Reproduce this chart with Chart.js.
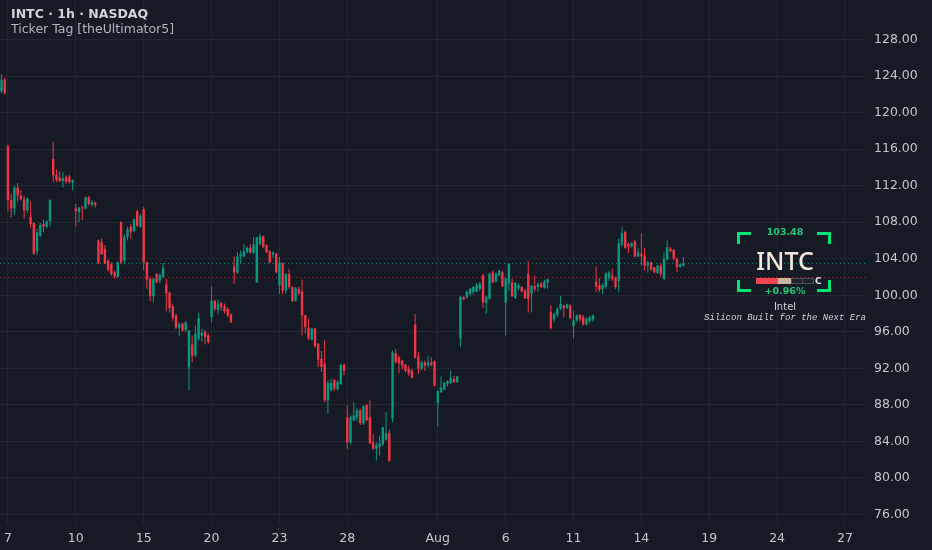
<!DOCTYPE html>
<html>
<head>
<meta charset="utf-8">
<script src="https://cdn.jsdelivr.net/npm/chart.js@4.4.1/dist/chart.umd.min.js"></script>
<style>
  html, body { margin: 0; padding: 0; background: #161a25; }
  #wrap { position: relative; width: 932px; height: 550px; overflow: hidden; font-family: "DejaVu Sans", sans-serif; }
  #chart { position: absolute; left: 0; top: 0; }
  .txt { position: absolute; white-space: nowrap; }
  .title { left: 11px; font-size: 12.5px; line-height: 16px; }
  .corner { position: absolute; width: 11px; height: 9px; border: 0 solid #00e676; }
  .tag { left: 735px; width: 100px; text-align: center; }
  .seg { position: absolute; top: 278px; height: 4px; border: 1px solid #4a4e58; }
</style>
</head>
<body>
<div id="wrap">
  <canvas id="chart" width="932" height="550"></canvas>

  <div class="txt title" style="top:6px; color:#d1d4dc; font-weight:600;">INTC · 1h · NASDAQ</div>
  <div class="txt title" style="top:21px; color:#b2b5be;">Ticker Tag [theUltimator5]</div>

  <div class="corner" style="left:737px; top:232px; border-top-width:3px; border-left-width:3px;"></div>
  <div class="corner" style="left:817px; top:232px; border-top-width:3px; border-right-width:3px;"></div>
  <div class="corner" style="left:737px; top:280px; border-bottom-width:3px; border-left-width:3px;"></div>
  <div class="corner" style="left:817px; top:280px; border-bottom-width:3px; border-right-width:3px;"></div>

  <div class="txt tag" id="tag-price" style="top:226px; font-size:9.5px; line-height:12px; color:#22c77a; font-weight:bold;"></div>
  <div class="txt tag" id="tag-symbol" style="top:245px; font-size:25px; line-height:30px; color:#f2e9de; font-family:'Noto Sans', sans-serif; font-weight:500;"></div>
  <div class="seg" style="left:756px; width:21px; background:#f04552; border-color:#f04552;"></div>
  <div class="seg" style="left:778px; width:12px; background:#c9b6a0; border-color:#c9b6a0;"></div>
  <div class="seg" style="left:791px; width:10px; background:#1e222d;"></div>
  <div class="seg" style="left:802px; width:10px; background:#1e222d;"></div>
  <div class="txt" style="left:815px; top:275px; font-size:9px; line-height:12px; color:#e0e3eb; font-weight:bold;">C</div>
  <div class="txt tag" id="tag-change" style="top:285px; font-size:9.5px; line-height:12px; color:#22c77a; font-weight:bold;"></div>
  <div class="txt tag" id="tag-name" style="top:301px; font-size:10px; line-height:12px; color:#d1d4dc;"></div>
  <div class="txt" id="tag-slogan" style="left:685px; width:200px; text-align:center; top:312px; font-size:9px; line-height:12px; color:#d1d4dc; font-family:'Liberation Mono', monospace; font-style:italic;"></div>
</div>

<script>
// INTC 1h candles (bar index 0 = leftmost bar)
const opens = [
  122.3, 123.6, 116.3, 110.4, 109.5, 111.8, 110.9, 110.5, 109.3, 108.6,
  107.9, 104.8, 106.5, 107.8, 107.5, 108.1, 114.9, 113.2, 112.9, 112.5,
  112.9, 113.0, 112.3, 109.5, 109.1, 109.6, 109.5, 110.7, 109.9, 110.1,
  106.0, 105.8, 105.1, 103.8, 103.4, 102.5, 102.0,
  108.0, 103.8, 106.4, 107.5, 107.0, 109.2, 107.5, 109.4, 103.6, 101.8,
  99.9, 102.35, 101.6, 102.05, 101.2, 100.3, 98.8, 97.8, 96.45, 96.9,
  96.2, 92.1, 94.6, 93.4, 95.2, 95.6, 96.0, 95.6, 97.6, 99.4,
  98.4, 99.1, 98.8, 98.5, 97.9,
  103.15, 102.5, 104.25, 104.25, 104.7, 105.2, 104.6, 101.4, 105.6, 106.45,
  105.45, 104.8, 104.45, 104.55, 101.1, 103.5, 100.5, 102.3, 100.9, 99.4,
  100.7, 100.45, 97.8, 96.45, 95.15, 96.35, 94.7, 93.05, 92.5, 88.5,
  89.6, 90.7, 89.75, 90.3, 92.4,
  86.65, 83.9, 86.3, 86.65, 87.4, 86.0, 87.95, 86.65, 83.9, 83.2,
  83.4, 83.7, 84.2, 84.9, 86.5, 93.65, 93.2, 92.85, 92.4, 91.95,
  91.75, 96.8, 93.3, 91.95, 92.65, 92.3, 92.65, 92.8, 88.2, 89.4,
  89.65, 90.3, 90.4, 90.85, 90.5,
  95.25, 99.8, 99.8, 100.15, 100.35, 100.4, 100.7, 102.15, 99.2, 99.6,
  102.5, 101.5, 102.15, 102.5, 99.2, 101.25, 101.4, 99.7, 100.75, 100.9,
  100.5, 102.35, 100.15, 101.0, 100.9, 101.25, 100.8, 101.4, 98.2, 97.35,
  97.85, 98.5, 98.85, 98.6, 98.9, 96.6, 97.25, 97.85, 97.6, 96.8,
  97.15, 97.35,
  101.45, 101.1, 100.7, 100.9, 101.9, 102.15, 101.9, 101.55, 105.55, 106.9,
  105.6, 105.35, 105.9, 104.25, 104.55, 104.35, 103.25, 103.6, 103.05, 102.45,
  103.25, 101.8, 103.9, 105.1, 104.95, 104.0, 103.1, 103.25
];
const highs = [
  124.2, 123.8, 116.5, 111.1, 112.0, 112.3, 111.5, 110.9, 110.7, 110.3,
  108.0, 107.3, 107.9, 108.3, 108.2, 110.5, 116.8, 113.8, 113.6, 113.5,
  113.1, 113.2, 112.7, 110.0, 109.7, 109.8, 110.8, 110.9, 110.4, 110.3,
  106.1, 106.2, 105.5, 103.9, 103.6, 102.7, 103.7,
  108.1, 106.7, 107.5, 107.8, 108.4, 109.4, 108.9, 109.65, 103.7, 102.05,
  101.9, 102.4, 102.4, 103.5, 101.8, 100.45, 99.1, 98.0, 97.05, 97.0,
  97.2, 96.2, 95.6, 96.7, 98.05, 96.3, 96.2, 95.8, 100.96, 99.5,
  99.5, 99.3, 99.1, 98.7, 98.0,
  104.25, 104.7, 104.9, 105.6, 105.35, 105.6, 106.35, 106.4, 106.8, 106.55,
  105.6, 104.95, 104.8, 104.6, 104.2, 103.6, 102.4, 102.9, 100.95, 100.9,
  100.9, 101.7, 97.9, 97.4, 96.45, 96.45, 94.75, 93.9, 95.05, 90.7,
  90.85, 90.85, 90.7, 92.5, 92.5,
  87.95, 86.85, 88.3, 87.6, 87.6, 87.95, 88.1, 88.5, 84.8, 83.9,
  84.65, 85.6, 87.2, 85.3, 93.95, 94.15, 93.4, 92.9, 92.5, 92.3,
  91.95, 97.95, 93.75, 92.85, 92.85, 93.4, 93.2, 92.85, 89.6, 91.1,
  90.5, 90.7, 91.75, 91.2, 91.2,
  99.95, 99.9, 100.5, 100.8, 101.0, 101.35, 101.45, 102.35, 99.95, 102.5,
  102.7, 102.5, 102.8, 102.7, 101.95, 103.5, 101.8, 101.45, 101.3, 101.0,
  100.7, 103.7, 101.15, 102.15, 101.4, 101.45, 101.7, 101.8, 98.9, 98.05,
  98.7, 99.95, 98.95, 99.1, 99.0, 98.3, 97.9, 97.95, 97.85, 97.6,
  97.75, 97.9,
  103.15, 101.9, 101.3, 102.5, 102.7, 102.9, 102.05, 106.2, 107.5, 107.1,
  105.8, 105.8, 106.05, 105.2, 106.8, 105.2, 103.8, 103.7, 103.1, 103.35,
  103.45, 104.7, 106.0, 105.3, 105.05, 104.1, 103.45, 104.2
];
const lows = [
  122.1, 122.0, 109.2, 108.5, 108.8, 110.2, 110.4, 108.4, 109.0, 107.4,
  104.4, 104.4, 106.4, 106.9, 107.3, 107.5, 112.4, 112.4, 112.4, 111.8,
  112.2, 112.2, 111.5, 107.5, 108.0, 108.2, 109.4, 109.8, 109.7, 109.6,
  103.4, 104.4, 103.4, 102.6, 102.1, 101.8, 101.9,
  103.4, 103.4, 106.0, 106.2, 106.9, 107.5, 107.4, 102.7, 100.7, 99.35,
  99.25, 101.3, 101.3, 101.9, 98.3, 98.1, 97.2, 96.3, 95.5, 96.0,
  95.95, 89.6, 92.7, 93.2, 95.05, 94.9, 94.6, 94.7, 97.05, 98.3,
  97.9, 98.3, 98.0, 97.6, 96.95,
  101.25, 102.35, 103.45, 104.2, 104.6, 104.6, 104.5, 101.4, 105.45, 105.15,
  104.6, 103.5, 104.1, 102.4, 100.15, 100.15, 100.15, 100.7, 99.25, 99.3,
  100.0, 95.6, 95.8, 95.1, 95.05, 94.25, 92.15, 91.6, 88.3, 87.0,
  89.55, 89.55, 89.55, 90.2, 91.3,
  83.2, 83.7, 86.2, 86.2, 85.8, 85.8, 86.2, 83.7, 83.1, 81.9,
  82.45, 83.5, 84.1, 81.75, 86.1, 92.55, 91.45, 91.9, 91.55, 91.2,
  90.85, 93.05, 91.4, 91.8, 91.7, 92.1, 92.2, 90.0, 85.6, 89.3,
  89.6, 90.0, 90.3, 90.4, 90.4,
  94.3, 99.45, 99.6, 99.95, 100.05, 100.3, 100.45, 98.6, 97.95, 99.55,
  101.35, 101.4, 102.1, 100.9, 95.6, 100.5, 99.8, 99.6, 100.55, 100.3,
  99.6, 98.1, 98.15, 100.4, 100.4, 100.8, 100.7, 100.7, 96.25, 97.05,
  97.6, 98.35, 97.6, 98.5, 97.45, 95.3, 97.1, 97.1, 96.7, 96.7,
  96.9, 97.1,
  100.35, 100.35, 100.1, 100.7, 101.6, 101.6, 100.7, 100.35, 105.3, 105.1,
  104.6, 105.2, 104.15, 104.15, 103.25, 102.7, 102.5, 102.7, 102.4, 102.35,
  102.05, 101.7, 103.8, 104.7, 103.8, 102.55, 103.05, 103.15
];
const closes = [
  123.6, 122.1, 110.4, 109.5, 111.8, 110.9, 110.5, 109.3, 110.6, 107.8,
  104.6, 106.9, 107.7, 107.5, 108.1, 110.4, 113.1, 112.6, 112.5, 112.8,
  112.4, 112.4, 112.6, 109.2, 109.6, 109.5, 110.7, 110.0, 110.2, 109.9,
  103.5, 104.5, 103.45, 102.8, 102.35, 102.05, 103.6,
  103.6, 106.4, 107.2, 106.9, 108.3, 107.6, 108.7, 103.6, 101.7, 99.9,
  101.8, 101.4, 102.2, 103.0, 100.2, 98.6, 97.5, 96.45, 96.8, 96.15,
  97.05, 96.15, 93.4, 95.8, 97.5, 95.9, 95.4, 94.85, 99.4, 98.5,
  99.1, 98.7, 98.25, 97.8, 97.05,
  102.5, 104.25, 104.55, 104.8, 105.2, 104.65, 105.55, 106.35, 106.45, 105.3,
  104.7, 103.6, 104.7, 102.5, 103.6, 100.5, 102.3, 100.9, 99.35, 100.8,
  100.2, 97.8, 96.5, 95.25, 96.35, 94.4, 92.95, 92.15, 88.5, 90.4,
  90.4, 89.75, 90.5, 92.4, 91.75,
  83.9, 86.6, 86.85, 87.4, 86.0, 87.85, 86.3, 83.8, 83.2, 83.55,
  83.8, 85.55, 84.9, 81.85, 93.75, 92.65, 92.55, 92.3, 91.75, 91.45,
  90.95, 93.2, 91.95, 92.65, 92.3, 92.65, 92.4, 90.1, 89.5, 89.9,
  90.4, 90.6, 90.95, 90.5, 91.1,
  99.8, 99.55, 100.4, 100.7, 100.9, 101.15, 101.25, 99.2, 99.8, 102.35,
  101.4, 102.35, 102.7, 101.0, 101.85, 103.45, 99.9, 101.35, 101.1, 100.4,
  99.7, 99.6, 101.05, 100.7, 101.25, 100.9, 101.5, 101.75, 96.4, 97.95,
  98.5, 99.05, 98.6, 99.0, 97.5, 97.25, 97.8, 97.35, 96.8, 97.4,
  97.6, 97.8,
  100.95, 100.6, 101.1, 102.4, 102.5, 101.8, 100.9, 105.7, 106.8, 105.2,
  105.35, 105.7, 104.25, 104.7, 104.25, 103.25, 103.6, 102.8, 102.5, 103.25,
  102.35, 104.0, 105.25, 104.8, 104.0, 103.1, 103.4, 103.48
];

// time axis: bar index where each date label sits
const dateTickIndex = [2, 23, 44, 65, 86, 107, 135, 156, 177, 198, 219, 240, 261];
const dateLabels = ["7", "10", "15", "20", "23", "28", "Aug", "6", "11", "14", "19", "24", "27"];
const priceTicks = [76, 80, 84, 88, 92, 96, 100, 104, 108, 112, 116, 120, 124, 128];

const symbol = "INTC";
const companyName = "Intel";
const slogan = "Silicon Built for the Next Era";
const lastPrice = 103.48;
const prevClose = 101.95;
const changePct = 0.96;

const upColor = "#089981";
const downColor = "#f23645";
const gridColor = "#222633";
const axisText = "#c3c6ce";

document.getElementById("tag-price").textContent = lastPrice.toFixed(2);
document.getElementById("tag-symbol").textContent = symbol;
document.getElementById("tag-change").textContent = "+" + changePct.toFixed(2) + "%";
document.getElementById("tag-name").textContent = companyName;
document.getElementById("tag-slogan").textContent = slogan;

function candleColor(i) {
  return closes[i] >= opens[i] ? upColor : downColor;
}

// stop the axes from reserving room for half labels at the edges
function noEdgePadding(scale) {
  scale.paddingTop = 0;
  scale.paddingBottom = 0;
  scale.paddingLeft = 0;
  scale.paddingRight = 0;
}

const barIndex = opens.map((_, i) => i);

const priceLines = {
  id: "priceLines",
  beforeDatasetsDraw(chart) {
    const { ctx, chartArea, scales } = chart;
    const lines = [
      { value: lastPrice, color: "rgba(8,153,129,0.9)" },
      { value: prevClose, color: "rgba(242,54,69,0.6)" },
    ];
    ctx.save();
    ctx.lineWidth = 1;
    ctx.setLineDash([1, 3]);
    for (const line of lines) {
      const y = Math.round(scales.y.getPixelForValue(line.value)) + 0.5;
      ctx.strokeStyle = line.color;
      ctx.beginPath();
      ctx.moveTo(chartArea.left, y);
      ctx.lineTo(chartArea.right, y);
      ctx.stroke();
    }
    ctx.restore();
  },
};

new Chart(document.getElementById("chart"), {
  type: "bar",
  data: {
    datasets: [
      {
        label: "wick",
        data: barIndex.map((i) => ({ x: i, y: [lows[i], highs[i]] })),
        backgroundColor: (c) => candleColor(c.dataIndex),
        barThickness: 1,
        grouped: false,
        inflateAmount: 0,
        order: 2,
      },
      {
        label: "body",
        data: barIndex.map((i) => ({ x: i, y: [opens[i], closes[i]] })),
        backgroundColor: (c) => candleColor(c.dataIndex),
        barThickness: 2.4,
        minBarLength: 1,
        grouped: false,
        inflateAmount: 0,
        order: 1,
      },
    ],
  },
  options: {
    responsive: false,
    animation: false,
    layout: { padding: 0 },
    plugins: { legend: { display: false }, tooltip: { enabled: false } },
    scales: {
      x: {
        type: "linear",
        min: -0.46,
        max: 267.2,
        offset: false,
        grid: { color: gridColor, drawTicks: false, offset: false },
        border: { display: false },
        afterBuildTicks: (scale) => {
          scale.ticks = dateTickIndex.map((v) => ({ value: v }));
        },
        afterFit: (scale) => {
          scale.height = 26;
          noEdgePadding(scale);
        },
        ticks: {
          autoSkip: false,
          maxRotation: 0,
          padding: 7,
          color: axisText,
          font: { family: "DejaVu Sans", size: 12.5 },
          callback: (value, index) => dateLabels[index],
        },
      },
      y: {
        position: "right",
        min: 74.96,
        max: 132.32,
        grid: { color: gridColor, drawTicks: false },
        border: { display: false },
        afterBuildTicks: (scale) => {
          scale.ticks = priceTicks.map((v) => ({ value: v }));
        },
        afterFit: (scale) => {
          scale.width = 67;
          noEdgePadding(scale);
        },
        ticks: {
          padding: 9,
          color: axisText,
          font: { family: "DejaVu Sans", size: 12.5 },
          callback: (value) => Number(value).toFixed(2),
        },
      },
    },
  },
  plugins: [priceLines],
});
</script>
</body>
</html>
